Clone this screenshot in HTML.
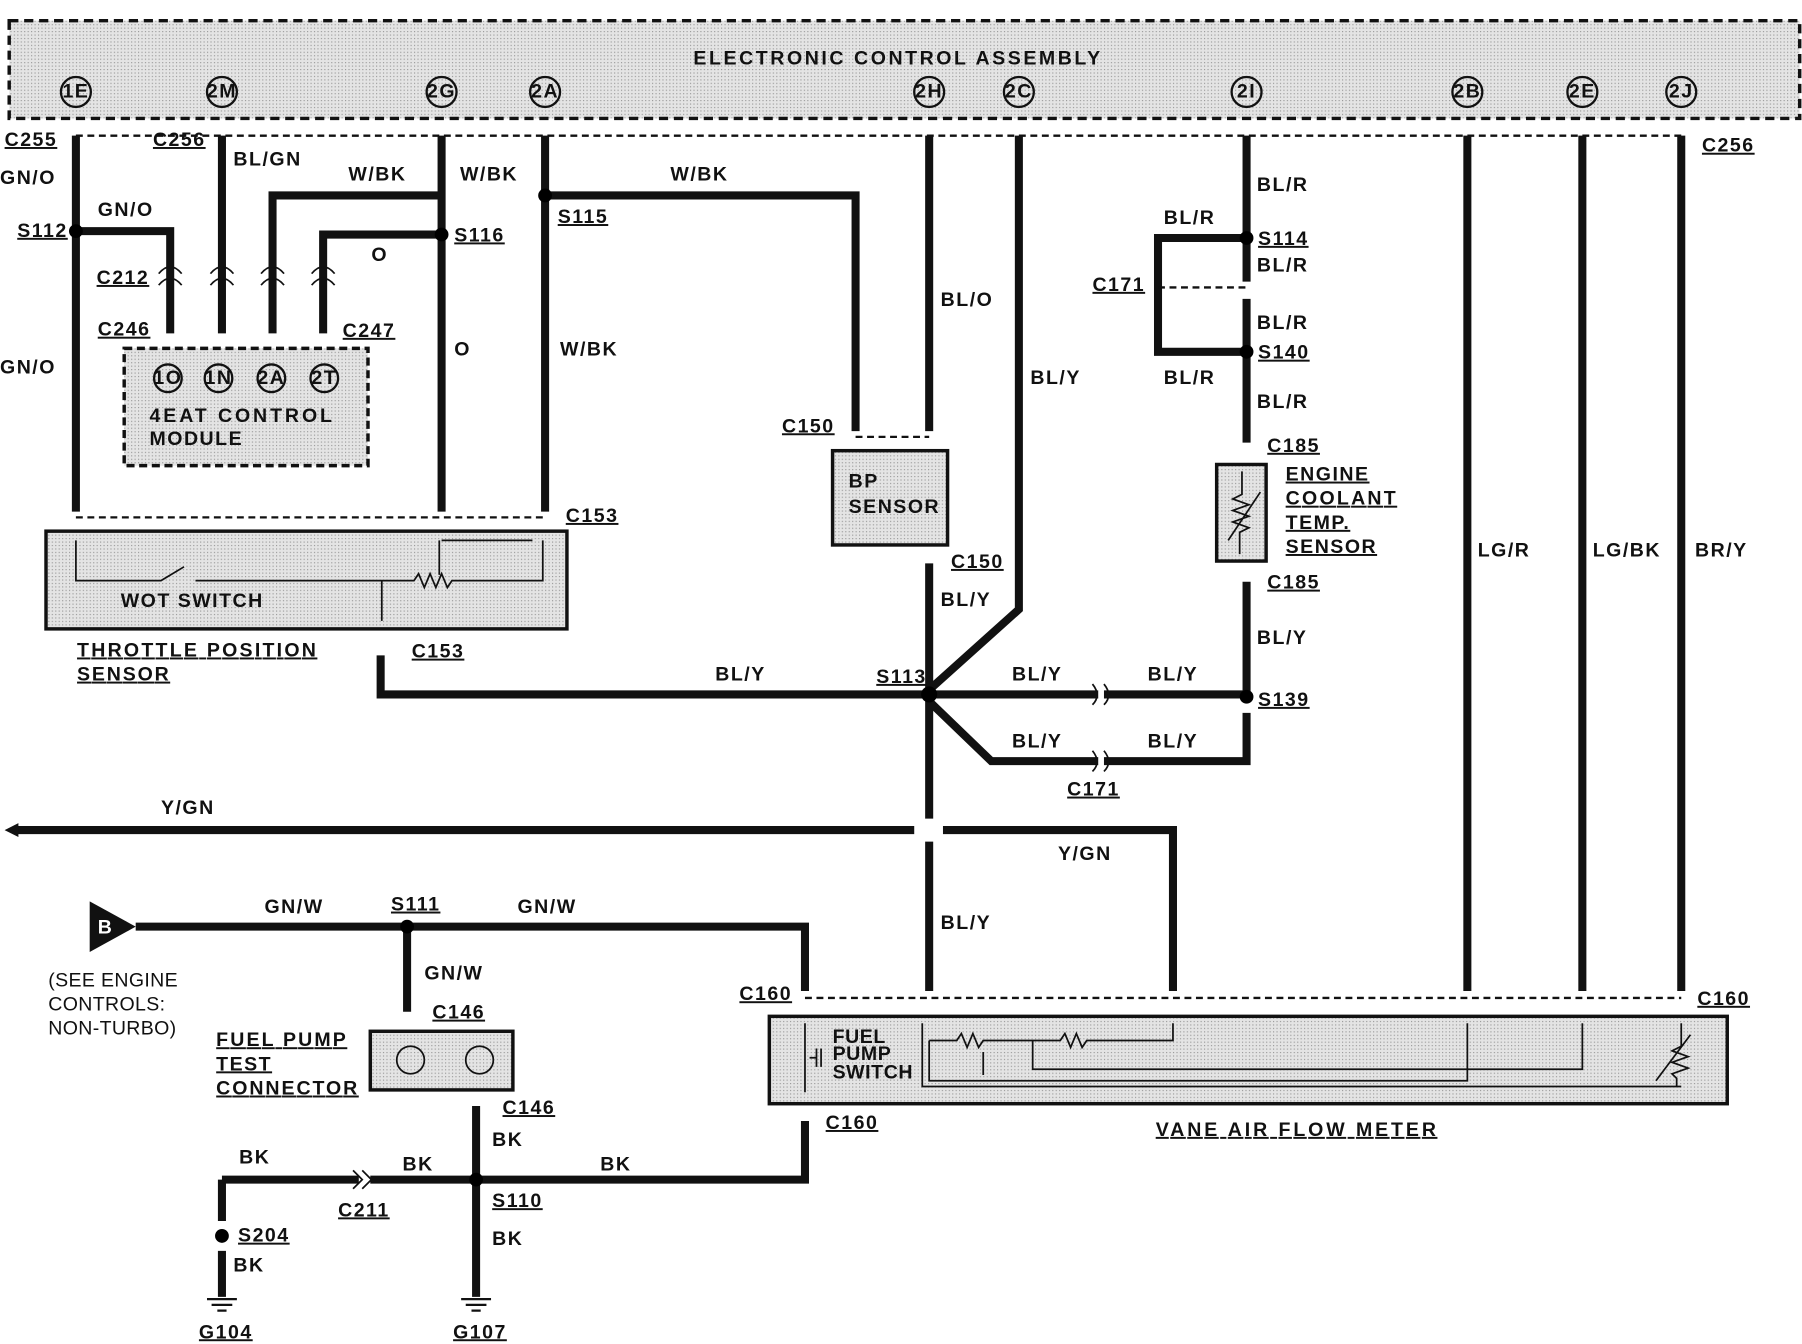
<!DOCTYPE html>
<html><head><meta charset="utf-8"><style>
html,body{margin:0;padding:0;background:#fff;}
svg{display:block}
text{font-family:"Liberation Sans",sans-serif;font-weight:bold;font-size:17px;fill:#111;letter-spacing:1.3px}
.u{text-decoration:underline}
.w{stroke:#111;stroke-width:7;fill:none;stroke-linejoin:miter}
.t{stroke:#111;stroke-width:1.5;fill:none}
.d{stroke:#111;stroke-width:2;fill:none;stroke-dasharray:6 4}
</style></head><body>
<svg width="1802" height="1344" viewBox="0 0 1567 1169" preserveAspectRatio="none" xmlns="http://www.w3.org/2000/svg">
<defs><pattern id="st" width="3" height="3" patternUnits="userSpaceOnUse"><rect width="3" height="3" fill="#e4e4e4"/><rect width="1" height="1" fill="#999"/></pattern></defs>
<!-- ECA -->
<rect x="8" y="18" width="1557" height="85" fill="url(#st)" stroke="#111" stroke-width="3" stroke-dasharray="8 5"/>
<text x="603" y="56" font-size="17" textLength="355" lengthAdjust="spacing">ELECTRONIC  CONTROL  ASSEMBLY</text>
<g fill="none" stroke="#111" stroke-width="2">
<circle cx="66" cy="80" r="13"/><circle cx="193" cy="80" r="13"/><circle cx="384" cy="80" r="13"/><circle cx="474" cy="80" r="13"/><circle cx="808" cy="80" r="13"/><circle cx="886" cy="80" r="13"/><circle cx="1084" cy="80" r="13"/><circle cx="1276" cy="80" r="13"/><circle cx="1376" cy="80" r="13"/><circle cx="1462" cy="80" r="13"/></g>
<g font-size="12" text-anchor="middle" style="letter-spacing:0"><text x="66" y="85">1E</text><text x="193" y="85">2M</text><text x="384" y="85">2G</text><text x="474" y="85">2A</text><text x="808" y="85">2H</text><text x="886" y="85">2C</text><text x="1084" y="85">2I</text><text x="1276" y="85">2B</text><text x="1376" y="85">2E</text><text x="1462" y="85">2J</text></g>
<path class="d" d="M66 118H1462"/>
<!-- left wires -->
<path class="w" d="M66 118V445M148 235V290M66 201H148V235M193 118V290M237 290V170H383M281 290V204H384M384 118V445M474 118V445M474 170H744V375M808 118V375"/>
<g class="t" stroke-width="2"><path d="M138 238q10-12 20 0M183 238q10-12 20 0M227 238q10-12 20 0M271 238q10-12 20 0M138 248q10-12 20 0M183 248q10-12 20 0M227 248q10-12 20 0M271 248q10-12 20 0"/></g>
<circle cx="66" cy="201" r="6"/><circle cx="384" cy="204" r="6"/><circle cx="474" cy="170" r="6"/>
<text x="4" y="127" class="u">C255</text><text x="0" y="160">GN/O</text><text x="15" y="206" class="u">S112</text><text x="0" y="325">GN/O</text>
<text x="85" y="188">GN/O</text><text x="133" y="127" class="u">C256</text><text x="203" y="144">BL/GN</text><text x="303" y="157">W/BK</text><text x="400" y="157">W/BK</text><text x="583" y="157">W/BK</text>
<text x="323" y="227">O</text><text x="395" y="210" class="u">S116</text><text x="485" y="194" class="u">S115</text><text x="84" y="247" class="u">C212</text>
<text x="85" y="292" class="u">C246</text><text x="298" y="293" class="u">C247</text><text x="395" y="309">O</text><text x="487" y="309">W/BK</text>
<rect x="108" y="303" width="212" height="102" fill="url(#st)" stroke="#111" stroke-width="3" stroke-dasharray="7 4"/>
<g fill="none" stroke="#111" stroke-width="2"><circle cx="146" cy="329" r="12"/><circle cx="190" cy="329" r="12"/><circle cx="236" cy="329" r="12"/><circle cx="282" cy="329" r="12"/></g>
<g font-size="12" text-anchor="middle" style="letter-spacing:0"><text x="146" y="334">1O</text><text x="190" y="334">1N</text><text x="236" y="334">2A</text><text x="282" y="334">2T</text></g>
<text x="130" y="367" font-size="17" textLength="160" lengthAdjust="spacing">4EAT  CONTROL</text><text x="130" y="387" font-size="17">MODULE</text>
<path class="d" d="M66 450H474"/><text x="492" y="454" class="u">C153</text>
<rect x="40" y="462" width="453" height="85" fill="url(#st)" stroke="#111" stroke-width="3"/>
<path class="t" d="M66 470V505H140l20-12M170 505H332M332 505V540M332 505H360l4-6 5 12 5-12 5 12 5-12 5 12 4-6H472V470M382 470V500M384 470H463"/>
<text x="105" y="528" font-size="12">WOT  SWITCH</text>
<text x="67" y="571" class="u" font-size="17" textLength="209" lengthAdjust="spacing">THROTTLE  POSITION</text><text x="67" y="592" class="u" font-size="17" textLength="81" lengthAdjust="spacing">SENSOR</text>
<!-- BL/Y network -->
<path class="w" d="M331 570V604H808M886 118V530L808 600M808 490V712M808 732V862M808 604H955M960 604H1084V506M808 610L862 662H955M960 662H1084V620"/>
<path class="t" d="M950 595q8 10 0 18M960 595q8 10 0 18M950 653q8 10 0 18M960 653q8 10 0 18"/>
<circle cx="808" cy="604" r="7"/><circle cx="1084" cy="606" r="6"/>
<text x="622" y="592">BL/Y</text><text x="762" y="594" class="u">S113</text><text x="880" y="592">BL/Y</text><text x="998" y="592">BL/Y</text><text x="880" y="650">BL/Y</text><text x="998" y="650">BL/Y</text>
<text x="928" y="692" class="u">C171</text><text x="1094" y="614" class="u">S139</text><text x="818" y="527">BL/Y</text><text x="818" y="808">BL/Y</text>
<text x="358" y="572" class="u">C153</text><text x="1093" y="560">BL/Y</text>
<!-- BP sensor -->
<path class="d" d="M744 380H808"/><text x="680" y="376" class="u">C150</text><text x="818" y="266">BL/O</text><text x="896" y="334">BL/Y</text>
<rect x="724" y="392" width="100" height="82" fill="url(#st)" stroke="#111" stroke-width="3"/>
<text x="738" y="424" font-size="17">BP</text><text x="738" y="446" font-size="17">SENSOR</text>
<text x="827" y="494" class="u">C150</text>
<!-- BL/R -->
<path class="w" d="M1084 118V245M1084 260V385M1084 207H1007V306H1084"/>
<path class="d" d="M1007 250H1084"/>
<circle cx="1084" cy="207" r="6"/><circle cx="1084" cy="306" r="6"/>
<text x="1093" y="166">BL/R</text><text x="1012" y="195">BL/R</text><text x="1094" y="213" class="u">S114</text><text x="1093" y="236">BL/R</text><text x="950" y="253" class="u">C171</text>
<text x="1093" y="286">BL/R</text><text x="1094" y="312" class="u">S140</text><text x="1012" y="334">BL/R</text><text x="1093" y="355">BL/R</text>
<text x="1102" y="393" class="u">C185</text><text x="1102" y="512" class="u">C185</text>
<rect x="1058" y="404" width="43" height="84" fill="url(#st)" stroke="#111" stroke-width="3"/>
<path class="t" d="M1080 410V430l-8 4 14 5-14 5 14 5-14 5 14 5-8 4V482M1068 470L1096 428"/>
<text x="1118" y="418" class="u" font-size="17">ENGINE</text><text x="1118" y="439" class="u" font-size="17" textLength="97" lengthAdjust="spacing">COOLANT</text><text x="1118" y="460" class="u" font-size="17">TEMP.</text><text x="1118" y="481" class="u" font-size="17">SENSOR</text>
<!-- right wires -->
<path class="w" d="M1276 118V862M1376 118V862M1462 118V862"/>
<text x="1480" y="132" class="u">C256</text><text x="1285" y="484">LG/R</text><text x="1385" y="484">LG/BK</text><text x="1474" y="484">BR/Y</text>
<!-- Y/GN -->
<path class="w" d="M12 722H795M820 722H1020V862"/><path d="M4 722l12-6v12z" fill="#111"/>
<text x="140" y="708">Y/GN</text><text x="920" y="748">Y/GN</text>
<!-- GN/W -->
<path d="M78 784L118 806 78 828z" fill="#111"/><text x="85" y="812" style="fill:#fff" font-size="18">B</text>
<path class="w" d="M118 806H700V862M354 806V880"/><circle cx="354" cy="806" r="6"/>
<text x="230" y="794">GN/W</text><text x="450" y="794">GN/W</text><text x="340" y="792" class="u">S111</text><text x="369" y="852">GN/W</text>
<text x="42" y="858" style="font-weight:normal;letter-spacing:0.3px">(SEE ENGINE</text><text x="42" y="879" style="font-weight:normal;letter-spacing:0.3px">CONTROLS:</text><text x="42" y="900" style="font-weight:normal;letter-spacing:0.3px">NON-TURBO)</text>
<text x="376" y="886" class="u">C146</text>
<rect x="322" y="897" width="124" height="51" fill="url(#st)" stroke="#111" stroke-width="3"/>
<circle cx="357" cy="922" r="12" fill="none" stroke="#111" stroke-width="1.5"/><circle cx="417" cy="922" r="12" fill="none" stroke="#111" stroke-width="1.5"/>
<text x="188" y="910" class="u" font-size="17" textLength="114" lengthAdjust="spacing">FUEL  PUMP</text><text x="188" y="931" class="u" font-size="17">TEST</text><text x="188" y="952" class="u" font-size="17" textLength="124" lengthAdjust="spacing">CONNECTOR</text>
<!-- BK -->
<path class="w" d="M414 962V1128M193 1026H312M322 1026H700V975M193 1026V1062M193 1088V1128"/>
<path class="t" d="M307 1018l8 8-8 8M315 1018l8 8-8 8"/>
<circle cx="414" cy="1026" r="6"/><circle cx="193" cy="1075" r="6"/>
<text x="437" y="969" class="u">C146</text><text x="428" y="997">BK</text><text x="208" y="1012">BK</text><text x="350" y="1018">BK</text><text x="522" y="1018">BK</text>
<text x="294" y="1058" class="u">C211</text><text x="428" y="1050" class="u">S110</text><text x="428" y="1083">BK</text>
<text x="207" y="1080" class="u">S204</text><text x="203" y="1106">BK</text><text x="718" y="982" class="u">C160</text>
<path d="M180 1130h26M184 1135h18M189 1140h8M401 1130h26M405 1135h18M410 1140h8" stroke="#111" stroke-width="2"/>
<text x="173" y="1164" class="u">G104</text><text x="394" y="1164" class="u">G107</text>
<!-- VAF -->
<path class="d" d="M700 868H1462"/><text x="643" y="870" class="u">C160</text><text x="1476" y="874" class="u">C160</text>
<rect x="669" y="884" width="833" height="76" fill="url(#st)" stroke="#111" stroke-width="3"/>
<path class="t" d="M700 890V950M704 920h6M710 912v16M714 912v16M802 890V945H1462M808 905H832l4-6 5 12 5-12 5 12 4-6H898H922l4-6 5 12 5-12 5 12 4-6H1020V890M898 905V930H1376V890M855 935V915M808 905V940H1276V890M1462 890V910l-8 4 14 5-14 5 14 5-14 5 4 4V945M1440 940L1470 900"/>
<text x="724" y="907" font-size="12" style="letter-spacing:0.5px">FUEL</text><text x="724" y="922" font-size="12" style="letter-spacing:0.5px">PUMP</text><text x="724" y="938" font-size="12" style="letter-spacing:0.5px">SWITCH</text>
<text x="1005" y="988" class="u" font-size="17" textLength="245" lengthAdjust="spacing">VANE  AIR  FLOW  METER</text>
</svg>
</body></html>
